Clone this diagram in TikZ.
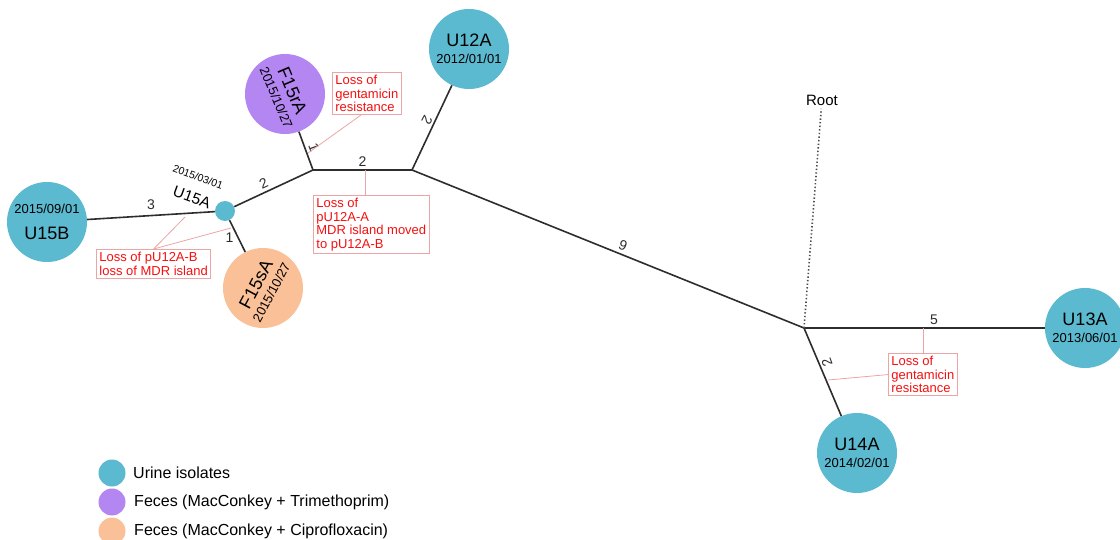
\documentclass[tikz,border=0pt]{standalone}
\usepackage{fontspec}
\setmainfont{Liberation Sans}
\usepackage{xcolor}
\usetikzlibrary{positioning}

\definecolor{urine}{RGB}{91,185,208}
\definecolor{trim}{RGB}{180,134,242}
\definecolor{cipro}{RGB}{250,192,152}
\definecolor{notered}{RGB}{245,15,15}
\definecolor{noteline}{RGB}{236,165,165}
\definecolor{branchcol}{RGB}{45,45,45}

\newcommand{\fsize}[1]{\fontsize{#1}{#1}\selectfont}

\begin{document}
\begin{tikzpicture}[x=1pt, y=-1pt,
  isolate/.style={circle, inner sep=0pt, minimum size=80pt, align=center},
  branch/.style={line width=1.6pt, branchcol},
  blen/.style={font=\fsize{14}, inner sep=2pt},
  note/.style={draw=noteline, line width=0.8pt, text=notered, align=left,
    inner sep=3pt, anchor=north west, font=\fontsize{13}{13.4}\selectfont},
  leader/.style={noteline, line width=0.8pt}]
  \useasboundingbox (0,0) rectangle (1120,540);

  % Isolates
  \node[isolate, fill=urine] (u15b) at (47,222)
    {\fsize{13}2015/09/01\\[13pt]\fsize{18}U15B};
  \node[circle, fill=urine, inner sep=0pt, minimum size=20pt] (u15a) at (225,211) {};
  \node[isolate, fill=trim, rotate=-67] (f15ra) at (285,94)
    {\fsize{18}F15rA\\[4pt]\fsize{13}2015/10/27};
  \node[isolate, fill=cipro, rotate=62] (f15sa) at (263,288)
    {\fsize{18}F15sA\\[4pt]\fsize{13}2015/10/27};
  \node[isolate, fill=urine] (u12a) at (469,49)
    {\fsize{18}U12A\\[5pt]\fsize{13}2012/01/01};
  \node[isolate, fill=urine] (u13a) at (1085,328)
    {\fsize{18}U13A\\[5pt]\fsize{13}2013/06/01};
  \node[isolate, fill=urine] (u14a) at (857,453)
    {\fsize{18}U14A\\[5pt]\fsize{13}2014/02/01};

  % U15A labels
  \node[rotate=-20, font=\fsize{10.5}] (u15adate) at (198,177) {2015/03/01};
  \node[rotate=-20, font=\fsize{15.5}] (u15aname) at (192,197) {U15A};

  % Internal junctions
  \coordinate (j1) at (313,170);
  \coordinate (j2) at (412,170);
  \coordinate (j3) at (804,328);

  % Branches
  \draw[branch] (u15b) -- (u15a) node[blen, midway, above=3pt] {3};
  \draw[branch] (u15a) -- (j1) node[blen, pos=0.42, sloped, above=1pt] {2};
  \draw[branch] (j1) -- (f15ra) node[blen, midway, sloped, above=1pt] {1};
  \draw[branch] (u15a) -- (f15sa) node[blen, pos=0.55, left=2pt] {1};
  \draw[branch] (j1) -- (j2) node[blen, midway, above=1pt] {2};
  \draw[branch] (j2) -- (u12a) node[blen, pos=0.55, rotate=-118, anchor=north] {2};
  \draw[branch] (j2) -- (j3) node[blen, pos=0.53, sloped, above=1pt] {9};
  \draw[branch] (j3) -- (u13a) node[blen, pos=0.54, above=1pt] {5};
  \draw[branch] (j3) -- (u14a) node[blen, pos=0.42, rotate=110, anchor=north] {2};

  % Root
  \node[font=\fsize{15}] (rootlbl) at (822,100) {Root};
  \draw[black!70, line width=1.6pt, dash pattern=on 1.4pt off 2.2pt] (j3) -- (rootlbl);

  % Annotations
  \node[note] (noteA) at (332,72) {Loss of\\gentamicin\\resistance};
  \node[note] (noteB) at (313,195) {Loss of\\pU12A-A\\MDR island moved\\to pU12A-B};
  \node[note] (noteC) at (96,249) {Loss of pU12A-B\\loss of MDR island};
  \node[note] (noteD) at (888,353) {Loss of\\gentamicin\\resistance};

  \coordinate (la) at (308,153);
  \coordinate (lb) at (365,170);
  \coordinate (lc1) at (185,217);
  \coordinate (lc2) at (231,228);
  \coordinate (ld1) at (923,328);
  \coordinate (ld2) at (828,380);

  \draw[leader] ([xshift=-6pt]noteA.south) -- (la);
  \draw[leader] (lb |- noteB.north) -- (lb);
  \draw[leader] (noteC.north) -- (lc1);
  \draw[leader] (noteC.north) -- (lc2);
  \draw[leader] (ld1 |- noteD.north) -- (ld1);
  \draw[leader] (noteD.west) -- (ld2);

  % Legend
  \node[circle, fill=urine, inner sep=0pt, minimum size=27pt] (legU) at (112,473) {};
  \node[circle, fill=trim, inner sep=0pt, minimum size=27pt] (legT) at (112,502) {};
  \node[circle, fill=cipro, inner sep=0pt, minimum size=27pt] (legC) at (112,531) {};
  \node[font=\fsize{16}, right=4pt of legU] (legUtxt) {Urine isolates};
  \node[font=\fsize{16}, right=5pt of legT] (legTtxt) {Feces (MacConkey + Trimethoprim)};
  \node[font=\fsize{16}, right=5pt of legC] (legCtxt) {Feces (MacConkey + Ciprofloxacin)};
\end{tikzpicture}
\end{document}
